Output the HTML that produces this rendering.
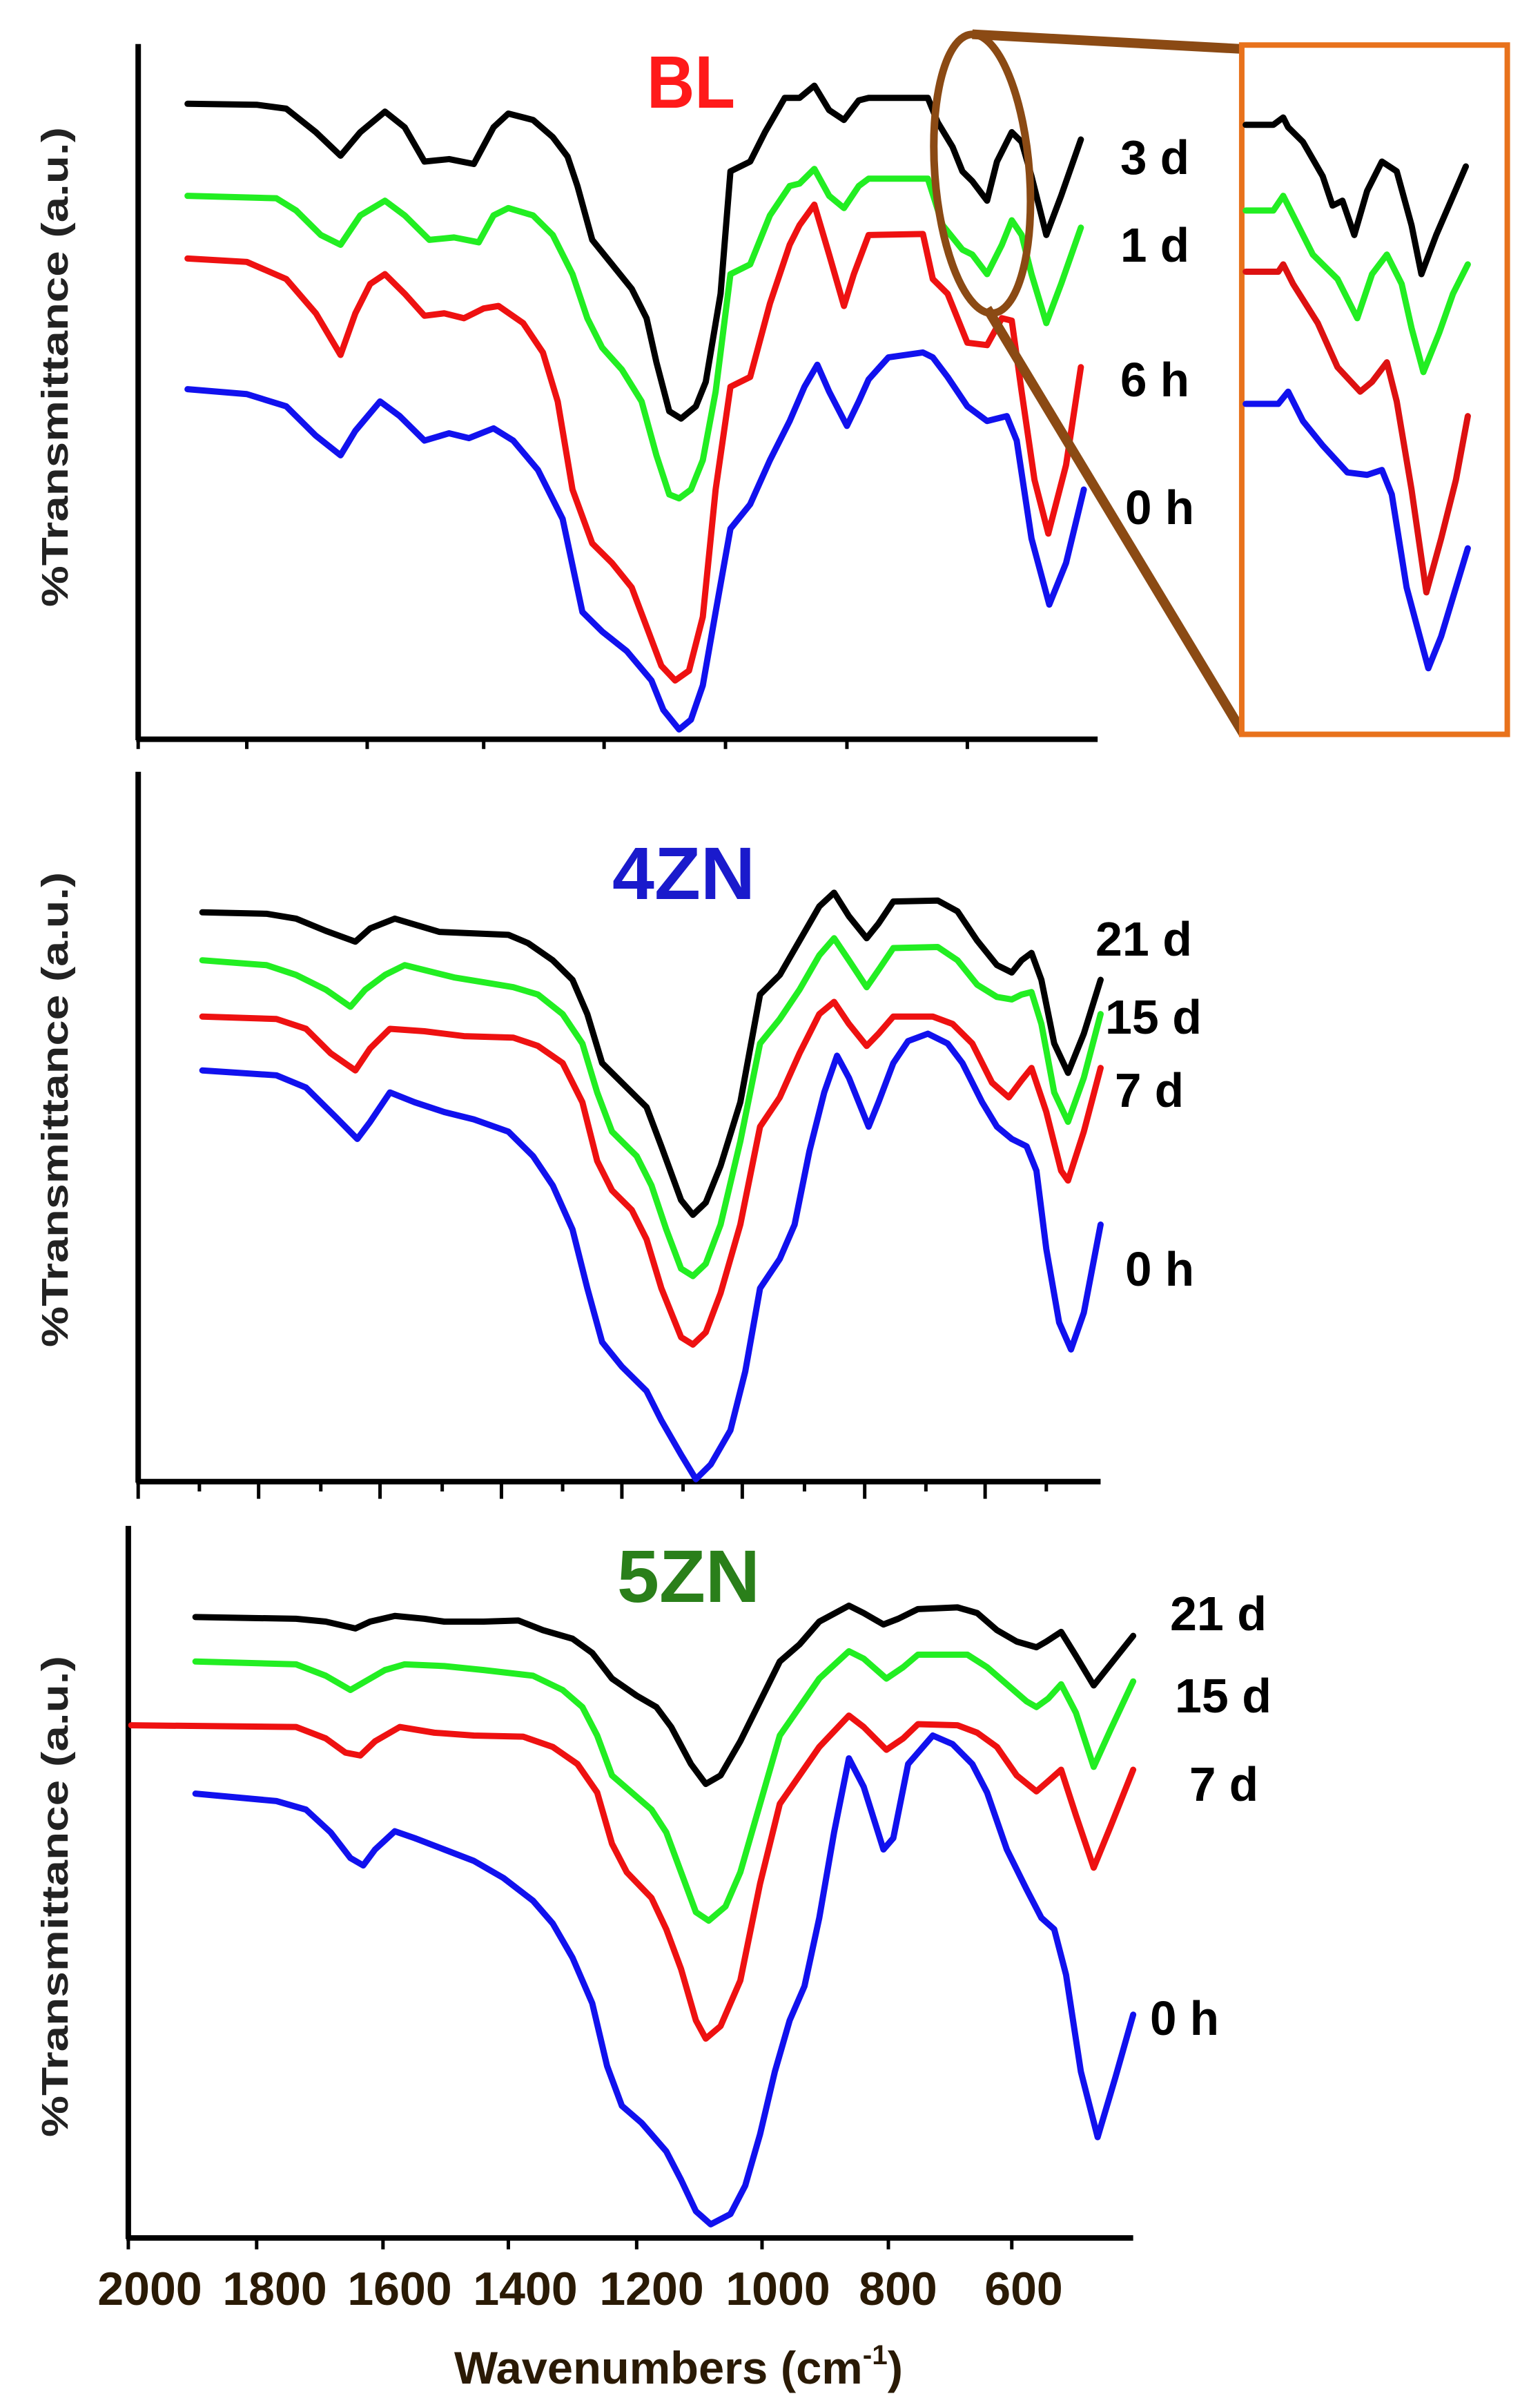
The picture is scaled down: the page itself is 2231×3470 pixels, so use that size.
<!DOCTYPE html>
<html><head><meta charset="utf-8"><style>
html,body{margin:0;padding:0;background:#fff;}
svg{display:block;}
.c{fill:none;stroke-width:9;stroke-linejoin:round;stroke-linecap:round;vector-effect:non-scaling-stroke;}
.ax{fill:none;stroke:#000;stroke-width:8;vector-effect:non-scaling-stroke;}
.tk{fill:none;stroke:#000;stroke-width:5;vector-effect:non-scaling-stroke;}
text{font-family:"Liberation Sans",sans-serif;}
.lb{font-weight:bold;font-size:70px;fill:#000;}
.yl{font-weight:bold;font-size:54px;fill:#222;}
</style></head><body>
<svg width="2231" height="3470" viewBox="0 0 2231 3470" xmlns="http://www.w3.org/2000/svg">
<rect width="2231" height="3470" fill="#fff"/>

<!-- Panel 1 BL -->
<g transform="scale(1.43,0.709)">
<line class="ax" x1="140" y1="90" x2="140" y2="1512"/>
<line class="ax" x1="138" y1="1510" x2="1112" y2="1510"/>
<path class="tk" d="M140 1510V1530M250 1510V1530M372 1510V1530M490 1510V1530M612 1510V1530M735 1510V1530M858 1510V1530M980 1510V1530"/>
<polyline class="c" stroke="#000" points="190,212 260,214 290,222 320,270 345,318 365,270 390,228 410,260 430,330 455,325 480,335 500,260 515,232 540,245 560,280 575,320 585,380 600,490 620,540 640,590 655,650 665,740 678,840 690,855 705,830 715,780 730,600 740,350 760,330 775,270 795,200 810,200 825,175 840,225 855,245 870,205 880,200 940,200 950,250 965,300 975,350 985,370 1000,410 1010,330 1025,270 1035,290 1045,360 1060,480 1075,400 1095,285"/>
<polyline class="c" stroke="#22ee22" points="190,400 280,405 300,430 325,480 345,500 365,440 390,410 410,440 435,490 460,485 485,495 500,440 515,425 540,440 560,480 580,560 595,650 610,710 630,755 650,820 665,930 678,1010 688,1018 700,1000 712,940 725,800 740,560 760,540 780,440 800,380 810,375 825,345 840,400 855,425 870,380 880,365 940,365 955,460 975,510 985,520 1000,560 1015,500 1025,450 1035,480 1045,560 1060,660 1075,580 1095,465"/>
<polyline class="c" stroke="#ee1111" points="190,528 250,535 290,570 320,640 345,725 360,640 375,580 390,560 410,600 430,645 450,640 470,650 490,630 505,625 530,660 550,720 565,820 580,1000 600,1110 620,1150 640,1200 655,1280 670,1360 684,1390 698,1370 712,1260 725,1000 740,790 760,770 780,620 800,500 810,460 825,418 840,520 855,625 865,560 880,480 935,478 945,570 960,600 980,700 1000,705 1015,650 1025,655 1035,800 1048,980 1062,1090 1080,950 1095,750"/>
<polyline class="c" stroke="#1111ee" points="190,795 250,805 290,830 320,890 345,930 360,880 385,820 405,850 430,900 455,885 475,895 500,875 520,900 545,960 570,1060 590,1250 610,1290 635,1330 660,1390 672,1450 688,1490 700,1470 712,1400 725,1250 740,1080 760,1030 780,940 800,860 815,790 828,745 840,800 858,870 870,820 880,775 900,730 935,720 945,730 960,770 980,830 1000,860 1020,850 1030,900 1045,1100 1063,1235 1080,1150 1098,1000"/>
<ellipse cx="995" cy="355" rx="48" ry="285" fill="none" stroke="#8b4a14" stroke-width="11" vector-effect="non-scaling-stroke" transform="rotate(-2 995 355)"/>
<line x1="985" y1="70" x2="1258" y2="100" stroke="#8b4a14" stroke-width="14" vector-effect="non-scaling-stroke"/>
<line x1="1000" y1="630" x2="1260" y2="1500" stroke="#8b4a14" stroke-width="14" vector-effect="non-scaling-stroke"/>
<rect x="1258" y="92" width="269" height="1408" fill="#fff" stroke="#e8721c" stroke-width="8" vector-effect="non-scaling-stroke"/>
<polyline class="c" stroke="#000" points="1262,255 1290,255 1300,240 1305,260 1320,290 1340,360 1350,420 1360,410 1372,480 1385,390 1400,330 1415,350 1430,460 1440,560 1455,480 1470,410 1485,340"/>
<polyline class="c" stroke="#22ee22" points="1262,430 1290,430 1300,400 1310,440 1330,520 1355,570 1375,650 1390,560 1405,520 1420,580 1430,670 1442,760 1458,680 1472,600 1487,540"/>
<polyline class="c" stroke="#dd1111" points="1262,555 1295,555 1300,540 1310,580 1335,660 1355,750 1378,800 1390,780 1405,740 1415,820 1430,1000 1445,1210 1460,1100 1475,980 1487,850"/>
<polyline class="c" stroke="#1111ee" points="1262,825 1295,825 1305,800 1320,860 1340,910 1365,965 1385,970 1400,960 1410,1010 1425,1200 1447,1365 1460,1300 1475,1200 1487,1120"/>
</g>
<text x="937" y="156" font-size="108" font-weight="bold" fill="#ff1a1a" textLength="128" lengthAdjust="spacingAndGlyphs">BL</text>
<text class="lb" x="1623" y="252" textLength="100" lengthAdjust="spacingAndGlyphs">3 d</text>
<text class="lb" x="1623" y="379" textLength="100" lengthAdjust="spacingAndGlyphs">1 d</text>
<text class="lb" x="1623" y="574" textLength="100" lengthAdjust="spacingAndGlyphs">6 h</text>
<text class="lb" x="1630" y="759" textLength="100" lengthAdjust="spacingAndGlyphs">0 h</text>
<text class="yl" transform="translate(98,879) rotate(-90)" textLength="695" lengthAdjust="spacingAndGlyphs">%Transmittance (a.u.)</text>

<!-- Panel 2 4ZN -->
<g transform="translate(0,1100) scale(1.43,0.709)">
<line class="ax" x1="140" y1="25" x2="140" y2="1477"/>
<line class="ax" x1="138" y1="1475" x2="1115" y2="1475"/>
<path class="tk" d="M140 1475V1510M202 1475V1495M262 1475V1510M325 1475V1495M385 1475V1510M448 1475V1495M508 1475V1510M570 1475V1495M630 1475V1510M692 1475V1495M752 1475V1510M815 1475V1495M876 1475V1510M938 1475V1495M998 1475V1510M1060 1475V1495"/>
<polyline class="c" stroke="#000" points="205,312 270,315 300,325 330,350 360,372 375,345 400,325 425,340 445,352 480,355 515,358 535,375 560,410 580,450 595,520 610,620 630,660 655,710 670,790 690,900 702,930 715,905 730,830 750,700 770,480 790,440 810,370 830,300 845,272 860,320 878,365 890,335 905,290 950,288 970,310 990,370 1010,420 1025,435 1035,410 1045,395 1055,450 1068,580 1082,640 1098,560 1115,450"/>
<polyline class="c" stroke="#22ee22" points="205,410 270,420 300,440 330,470 355,505 370,470 390,440 410,420 430,430 460,445 490,455 520,465 545,480 570,520 590,580 605,680 620,760 645,810 660,870 675,960 690,1040 702,1055 715,1030 730,950 750,780 770,580 790,530 810,470 830,400 845,365 860,410 878,465 890,430 905,385 950,383 970,410 990,460 1010,485 1025,490 1035,480 1045,475 1055,540 1068,680 1082,740 1098,650 1115,520"/>
<polyline class="c" stroke="#ee1111" points="205,525 280,530 310,550 335,600 360,635 375,590 395,550 430,555 470,565 520,568 545,585 570,620 590,700 605,820 620,880 640,920 655,980 670,1080 690,1180 702,1195 715,1170 730,1090 750,950 770,750 790,690 810,600 830,520 845,495 860,540 878,585 890,560 905,525 945,525 965,540 985,580 1005,660 1022,690 1035,655 1045,630 1060,720 1075,840 1082,860 1098,760 1115,630"/>
<polyline class="c" stroke="#1111ee" points="205,635 280,645 310,670 340,730 362,775 375,740 395,680 420,700 450,720 480,735 515,760 540,810 560,870 580,960 595,1080 610,1190 630,1240 655,1290 670,1350 690,1420 705,1470 720,1440 740,1370 755,1250 770,1080 790,1020 805,950 820,800 835,680 848,605 860,650 880,750 890,700 905,620 920,575 940,560 960,580 975,620 995,700 1010,750 1025,775 1040,790 1050,840 1060,1000 1073,1150 1085,1205 1098,1130 1115,950"/>
</g>
<text x="887" y="1302" font-size="108" font-weight="bold" fill="#1a1acc" textLength="207" lengthAdjust="spacingAndGlyphs">4ZN</text>
<text class="lb" x="1587" y="1384" textLength="140" lengthAdjust="spacingAndGlyphs">21 d</text>
<text class="lb" x="1601" y="1497" textLength="140" lengthAdjust="spacingAndGlyphs">15 d</text>
<text class="lb" x="1615" y="1603" textLength="100" lengthAdjust="spacingAndGlyphs">7 d</text>
<text class="lb" x="1630" y="1862" textLength="100" lengthAdjust="spacingAndGlyphs">0 h</text>
<text class="yl" transform="translate(98,1951) rotate(-90)" textLength="688" lengthAdjust="spacingAndGlyphs">%Transmittance (a.u.)</text>

<!-- Panel 3 5ZN -->
<g transform="translate(0,2200) scale(1.43,0.825)">
<line class="ax" x1="130" y1="12" x2="130" y2="1264"/>
<line class="ax" x1="128" y1="1262" x2="1148" y2="1262"/>
<path class="tk" d="M130 1262V1282M260 1262V1282M388 1262V1282M515 1262V1282M645 1262V1282M772 1262V1282M900 1262V1282M1025 1262V1282"/>
<polyline class="c" stroke="#000" points="198,172 300,175 330,180 360,192 375,180 400,170 430,175 450,180 490,180 525,178 550,195 580,210 600,235 620,280 645,310 665,330 680,365 700,430 715,465 730,450 750,390 770,320 790,250 810,220 830,180 860,152 875,165 895,185 910,175 930,158 970,155 990,165 1010,195 1030,215 1050,225 1060,215 1075,198 1090,240 1108,292 1125,255 1148,205"/>
<polyline class="c" stroke="#22ee22" points="198,250 300,255 330,275 355,300 370,285 390,265 410,255 450,258 490,265 540,275 570,300 590,330 605,380 620,450 640,480 660,510 675,550 690,620 705,690 718,705 735,680 750,620 770,500 790,380 810,330 830,280 860,232 875,245 898,280 915,260 930,238 980,238 1000,260 1020,290 1040,320 1050,330 1062,315 1075,290 1090,340 1108,435 1125,370 1148,285"/>
<polyline class="c" stroke="#ee1111" points="133,362 300,365 330,385 350,410 365,415 380,390 405,365 440,375 480,380 530,382 560,400 585,430 605,480 620,570 635,620 660,665 675,720 690,790 705,880 715,912 730,890 750,810 770,640 790,500 810,450 830,400 860,345 875,365 898,405 915,385 930,360 970,362 990,375 1010,400 1030,450 1050,478 1062,460 1075,440 1090,520 1108,612 1125,540 1148,440"/>
<polyline class="c" stroke="#1111ee" points="198,482 280,495 310,510 335,550 355,595 368,608 380,580 400,548 420,560 450,580 480,600 510,630 540,670 560,710 580,770 600,850 615,960 630,1030 650,1060 675,1110 690,1160 705,1215 720,1238 740,1220 755,1170 770,1080 785,970 800,880 815,820 830,700 845,550 860,420 875,470 895,580 905,560 920,430 945,380 965,395 985,430 1000,480 1020,580 1040,650 1055,700 1068,720 1080,800 1095,970 1112,1085 1130,980 1148,870"/>
</g>
<text x="894" y="2320" font-size="108" font-weight="bold" fill="#2a7f1a" textLength="207" lengthAdjust="spacingAndGlyphs">5ZN</text>
<text class="lb" x="1695" y="2361" textLength="140" lengthAdjust="spacingAndGlyphs">21 d</text>
<text class="lb" x="1702" y="2480" textLength="140" lengthAdjust="spacingAndGlyphs">15 d</text>
<text class="lb" x="1723" y="2608" textLength="100" lengthAdjust="spacingAndGlyphs">7 d</text>
<text class="lb" x="1666" y="2947" textLength="100" lengthAdjust="spacingAndGlyphs">0 h</text>
<text class="yl" transform="translate(98,3095) rotate(-90)" textLength="697" lengthAdjust="spacingAndGlyphs">%Transmittance (a.u.)</text>
<g font-size="68" font-weight="bold" fill="#2a1a05" text-anchor="middle">
<text x="217" y="3338">2000</text>
<text x="398" y="3338">1800</text>
<text x="579" y="3338">1600</text>
<text x="761" y="3338">1400</text>
<text x="944" y="3338">1200</text>
<text x="1127" y="3338">1000</text>
<text x="1301" y="3338">800</text>
<text x="1483" y="3338">600</text>
</g>
<text x="658" y="3452" font-size="66" font-weight="bold" fill="#2a1a05" textLength="650" lengthAdjust="spacingAndGlyphs">Wavenumbers (cm<tspan font-size="40" dy="-28">-1</tspan><tspan dy="28">)</tspan></text>
</svg>
</body></html>
